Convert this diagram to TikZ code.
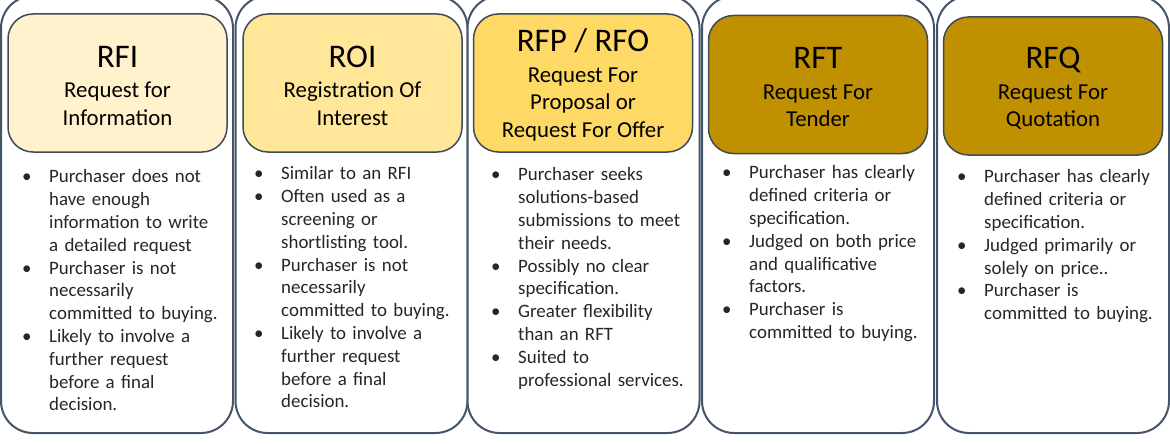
\documentclass[tikz,border=0pt]{standalone}
\usepackage{fontspec}
\setmainfont{Carlito}
\definecolor{frame}{HTML}{44546A}
\definecolor{edge}{HTML}{3E4A5A}
\definecolor{cream}{HTML}{FFF2CC}
\definecolor{sand}{HTML}{FFE699}
\definecolor{gold}{HTML}{FFD966}
\definecolor{ochre}{HTML}{BF9000}
\definecolor{ink}{HTML}{262626}
\newcommand{\ttl}[1]{{\fontsize{33}{33}\selectfont\rule{0pt}{27pt}#1}\\[3pt]}
\newcommand{\itm}[1]{\hangindent=27pt\hangafter=1\noindent\makebox[27pt][l]{\textbullet}#1\par}

\begin{document}
\begin{tikzpicture}[
              x=1pt, y=1pt,
              column/.style={draw=frame, line width=2pt, rounded corners=32pt, fill=white, minimum width=232pt, minimum height=437pt, inner sep=0pt},
              head/.style={draw=edge, line width=1.5pt, rounded corners=25pt, minimum width=219pt, minimum height=138pt, inner sep=0pt, align=center, font=\fontsize{22.8}{27.5}\selectfont},
              body/.style={anchor=north west, inner sep=0pt, text width=205pt, text=ink, font=\fontsize{18.9}{22.8}\selectfont}
            ]
              \useasboundingbox (0,0) rectangle (1170,-444);
              \node[column] (rficol) at (117,-214.5) {};
              \node[column] (roicol) at (351.5,-214.5) {};
              \node[column] (rfpcol) at (583.5,-214.5) {};
              \node[column] (rftcol) at (818,-214.5) {};
              \node[column] (rfqcol) at (1053,-214.5) {};

              \node[head, fill=cream] (rfi) at (117.5,-83) {\ttl{RFI}Request for\\Information};
              \node[head, fill=sand]  (roi) at (352.5,-83) {\ttl{ROI}Registration Of\\Interest};
              \node[head, fill=gold]  (rfp) at (583,-83) {\ttl{RFP / RFO}Request For\\Proposal or\\Request For Offer};
              \node[head, fill=ochre] (rft) at (818,-84.5) {\ttl{RFT}Request For\\Tender};
              \node[head, fill=ochre] (rfq) at (1053,-86) {\ttl{RFQ}Request For\\Quotation};

              \node[body] (rfitext) at (22,-169.5) {%
                \itm{Purchaser does not\newline have enough\newline information to write\newline a detailed request}%
                \itm{Purchaser is not\newline necessarily\newline committed to buying.}%
                \itm{Likely to involve a\newline further request\newline before a final\newline decision.}};
              \node[body] (roitext) at (254,-166.5) {%
                \itm{Similar to an RFI}%
                \itm{Often used as a\newline screening or\newline shortlisting tool.}%
                \itm{Purchaser is not\newline necessarily\newline committed to buying.}%
                \itm{Likely to involve a\newline further request\newline before a final\newline decision.}};
              \node[body] (rfptext) at (491,-167.5) {%
                \itm{Purchaser seeks\newline solutions-based\newline submissions to meet\newline their needs.}%
                \itm{Possibly no clear\newline specification.}%
                \itm{Greater flexibility\newline than an RFT}%
                \itm{Suited to\newline professional services.}};
              \node[body] (rfttext) at (722,-165.5) {%
                \itm{Purchaser has clearly\newline defined criteria or\newline specification.}%
                \itm{Judged on both price\newline and qualificative\newline factors.}%
                \itm{Purchaser is\newline committed to buying.}};
              \node[body] (rfqtext) at (957,-169.5) {%
                \itm{Purchaser has clearly\newline defined criteria or\newline specification.}%
                \itm{Judged primarily or\newline solely on price..}%
                \itm{Purchaser is\newline committed to buying.}};
            \end{tikzpicture}
\end{document}
